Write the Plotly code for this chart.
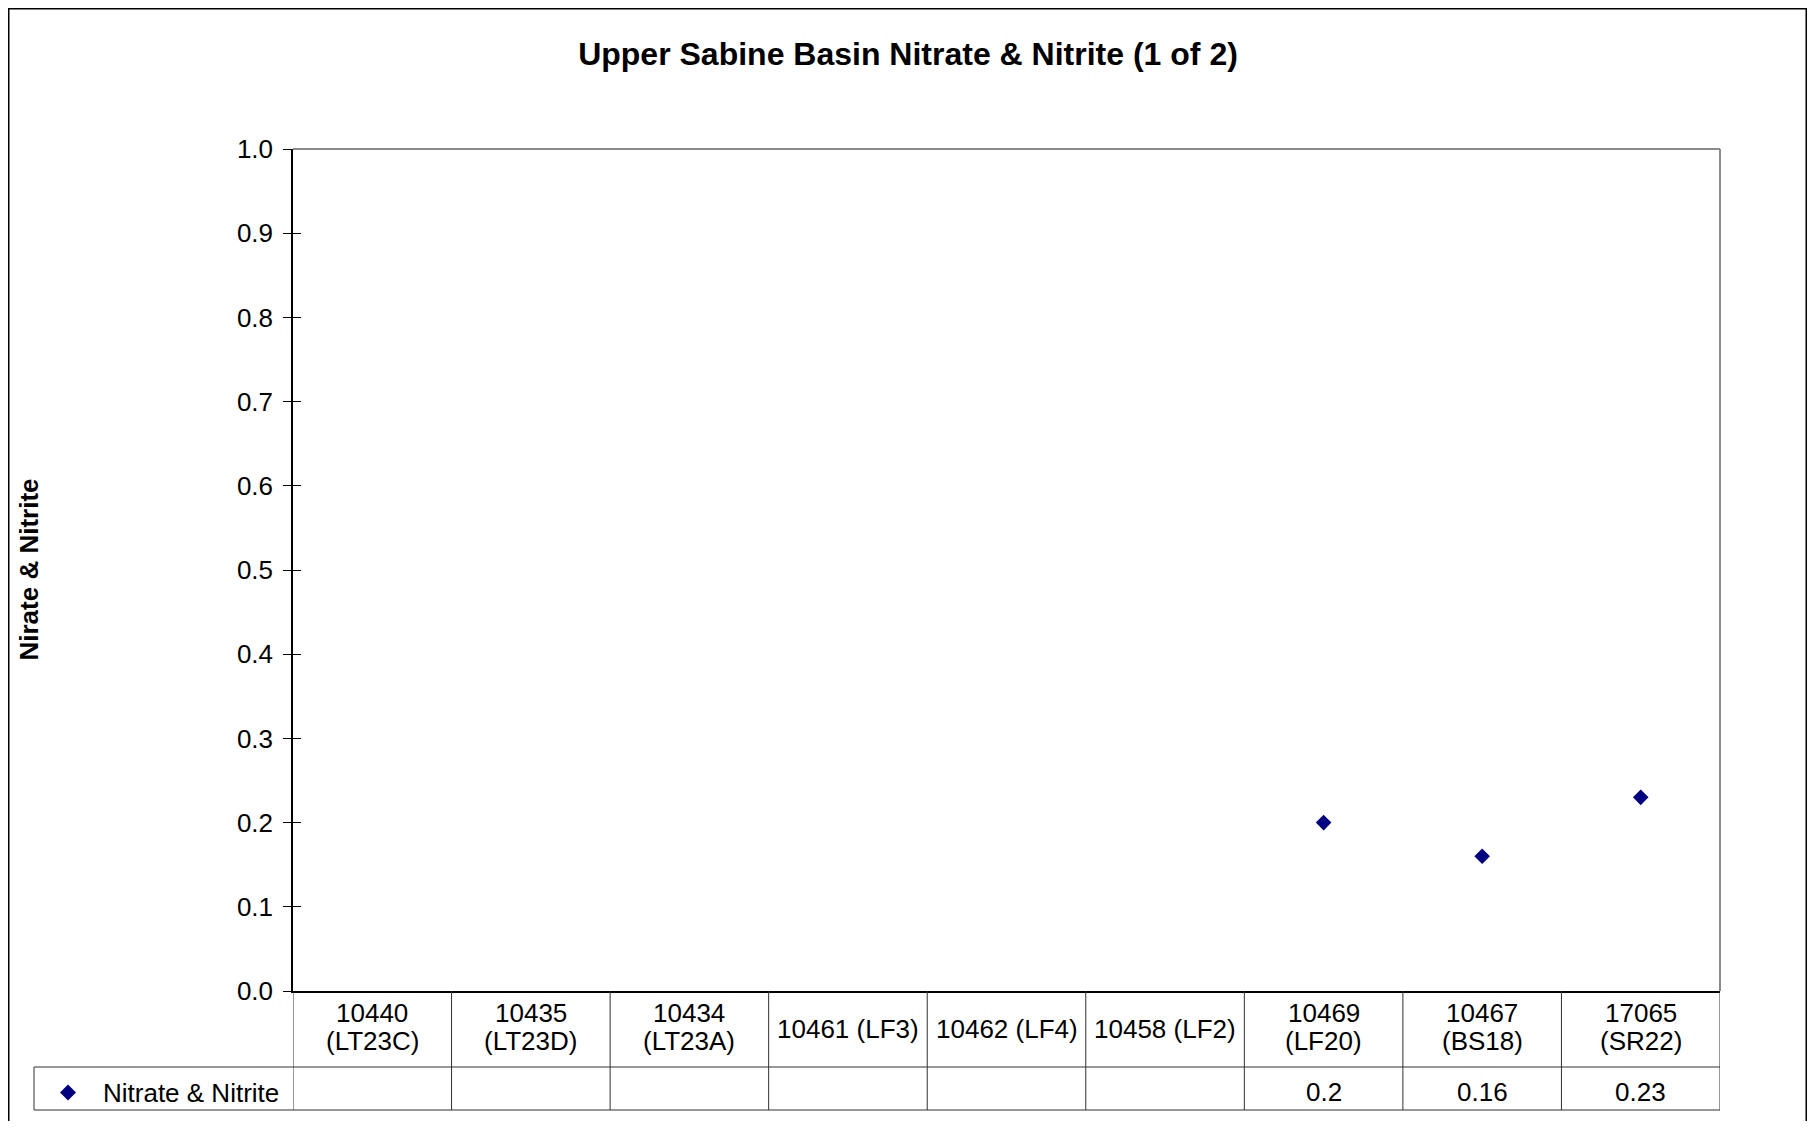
import plotly.graph_objects as go

# Stations along the bottom of the chart, and the lines Excel wrapped them into
stations = ["10440 (LT23C)", "10435 (LT23D)", "10434 (LT23A)", "10461 (LF3)", "10462 (LF4)",
            "10458 (LF2)", "10469 (LF20)", "10467 (BS18)", "17065 (SR22)"]
station_lines = [["10440", "(LT23C)"], ["10435", "(LT23D)"], ["10434", "(LT23A)"], ["10461 (LF3)"],
                 ["10462 (LF4)"], ["10458 (LF2)"], ["10469", "(LF20)"], ["10467", "(BS18)"],
                 ["17065", "(SR22)"]]
# mg/L, blank where no sample was taken
nitrate = [None, None, None, None, None, None, 0.2, 0.16, 0.23]
series_name = "Nitrate & Nitrite"

FONT = "Liberation Sans, Arial, sans-serif"
NAVY = "#000080"

# page is 1815x1129, the html body adds an 8px margin
W, H = 1799, 1113
L, R, T, B = 285, 1712, 141, 983


def px_x(v):
    return (v - L) / (R - L)


def px_y(v):
    return (B - v) / (B - T)


data = [
    go.Scatter(x=stations, y=nitrate, mode="markers", name=series_name,
               marker=dict(symbol="diamond", size=12, color=NAVY), showlegend=False),
    # empty trace so the second y axis (inner ticks) gets drawn
    go.Scatter(x=[], y=[], yaxis="y2", showlegend=False, hoverinfo="skip"),
]

shapes = []
line_dark = dict(color="#303030", width=1)
# grey top and right border of the plot area
shapes.append(dict(type="line", xref="paper", yref="paper", x0=0, x1=1, y0=1, y1=1,
                   line=dict(color="#8a8a8a", width=2)))
shapes.append(dict(type="line", xref="paper", yref="paper", x0=1, x1=1, y0=0, y1=1,
                   line=dict(color="#8a8a8a", width=2)))
# data table under the axis
row_mid = px_y(1059)
row_bot = px_y(1102)
tbl_left = px_x(26)
for yy in [row_mid, row_bot]:
    shapes.append(dict(type="line", xref="paper", yref="paper", x0=tbl_left, x1=1, y0=yy, y1=yy,
                       line=line_dark))
shapes.append(dict(type="line", xref="paper", yref="paper", x0=tbl_left, x1=tbl_left,
                   y0=row_mid, y1=row_bot, line=line_dark))
for k in range(len(stations) + 1):
    shapes.append(dict(type="line", xref="x", yref="paper", x0=k - 0.5, x1=k - 0.5,
                       y0=0, y1=row_bot, line=line_dark))
# legend key diamond
cx, cy = px_x(60), px_y(1084.5)
dx, dy = 8 / (R - L), 8 / (B - T)
shapes.append(dict(type="path", xref="paper", yref="paper",
                   path=f"M {cx - dx},{cy} L {cx},{cy + dy} L {cx + dx},{cy} L {cx},{cy - dy} Z",
                   fillcolor=NAVY, line=dict(width=0)))
# outer chart frame
fl, fr, ft, fb = px_x(0.75), px_x(W - 0.75), px_y(0.75), px_y(H + 10)
shapes.append(dict(type="path", xref="paper", yref="paper",
                   path=f"M {fl},{fb} L {fl},{ft} L {fr},{ft} L {fr},{fb}",
                   line=dict(color="black", width=1.5)))

annotations = []
txt = dict(family=FONT, size=26, color="black")
for i, lines in enumerate(station_lines):
    if len(lines) == 1:
        ys = [1021]
    else:
        ys = [1004.5, 1033]
    for line_txt, yy in zip(lines, ys):
        annotations.append(dict(x=stations[i], y=px_y(yy), xref="x", yref="paper", text=line_txt,
                                showarrow=False, xanchor="center", yanchor="middle", font=txt))
for i, v in enumerate(nitrate):
    if v is None:
        continue
    annotations.append(dict(x=stations[i], y=px_y(1083.5), xref="x", yref="paper", text=f"{v:g}",
                            showarrow=False, xanchor="center", yanchor="middle", font=txt))
annotations.append(dict(x=px_x(93), y=px_y(1084.5), xref="paper", yref="paper", text=series_name,
                        showarrow=False, xanchor="left", yanchor="middle", font=txt))
annotations.append(dict(x=px_x(20.5), y=0.5, xref="paper", yref="paper", text="<b>Nirate & Nitrite</b>",
                        textangle=-90, showarrow=False, xanchor="center", yanchor="middle",
                        font=dict(family=FONT, size=26, color="black")))

layout = go.Layout(
    width=W, height=H,
    margin=dict(l=L, r=W - R, t=T, b=H - B, pad=0),
    paper_bgcolor="white", plot_bgcolor="white",
    title=dict(text="<b>Upper Sabine Basin Nitrate & Nitrite (1 of 2)</b>", x=900 / W, xref="container",
               xanchor="center", y=1 - 46 / H, yref="container", yanchor="middle",
               font=dict(family=FONT, size=32, color="black")),
    xaxis=dict(type="category", categoryorder="array", categoryarray=stations, range=[-0.5, 8.5],
               showticklabels=False, ticks="", showgrid=False, zeroline=False,
               showline=True, linecolor="black", linewidth=1.5),
    yaxis=dict(range=[0, 1], dtick=0.1, tickformat=".1f", showgrid=False, zeroline=False,
               showline=True, linecolor="black", linewidth=1.5,
               ticks="outside", ticklen=8, tickwidth=1, tickcolor="black", ticklabelstandoff=5,
               tickfont=dict(family=FONT, size=26, color="black")),
    yaxis2=dict(overlaying="y", side="left", range=[0, 1], dtick=0.1, showgrid=False, zeroline=False,
                showline=False, showticklabels=False, ticks="inside", ticklen=8, tickwidth=1,
                tickcolor="black"),
    shapes=shapes,
    annotations=annotations,
)

fig = go.Figure(data=data, layout=layout)
fig.write_html("out.html")
